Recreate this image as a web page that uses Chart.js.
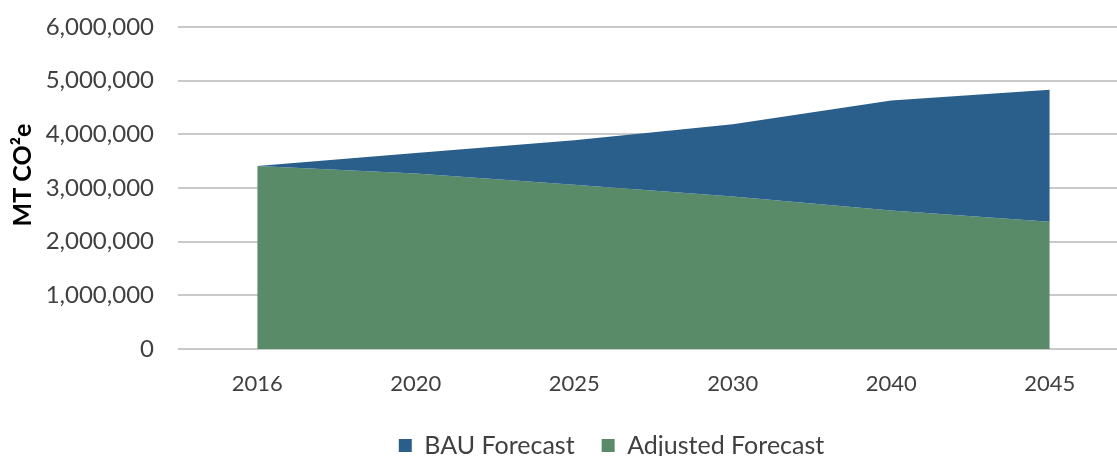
<!DOCTYPE html>
<html>
<head>
<meta charset="utf-8">
<script src="https://cdn.jsdelivr.net/npm/chart.js@4"></script>
<style>
  html, body { margin: 0; padding: 0; background: #fff; overflow: hidden; }
  #wrap { width: 1130px; height: 468px; position: relative; }
</style>
</head>
<body>
<div id="wrap"><canvas id="chart"></canvas></div>
<script>
// dados
const anos = ['2016', '2020', '2025', '2030', '2040', '2045'];
const bauForecast = [3410000, 3650000, 3890000, 4190000, 4630000, 4830000];
const adjustedForecast = [3410000, 3270000, 3060000, 2840000, 2580000, 2370000];
const yTicks = [0, 1000000, 2000000, 3000000, 4000000, 5000000, 6000000];
const tituloY = 'MT CO²e';

const corTexto = '#404040';
const fonte = 'Lato, "Open Sans", sans-serif';

function formatarNumero(v) {
  return v.toLocaleString('en-US');
}

// título do eixo Y desenhado à mão (para acertar a posição)
const tituloEixo = {
  id: 'tituloEixo',
  afterDraw(chart) {
    const c = chart.ctx;
    c.save();
    c.translate(23, 175);
    c.rotate(-Math.PI / 2);
    c.fillStyle = '#000';
    c.font = 'bold 25px ' + fonte;
    c.textAlign = 'center';
    c.textBaseline = 'middle';
    c.fillText(tituloY, 0, 0);
    c.restore();
  }
};

// desloca a legenda um pouco para a direita, como no original
const ajusteLegenda = {
  id: 'ajusteLegenda',
  afterLayout(chart) {
    chart.legend.left += 88;
  }
};

const ctx = document.getElementById('chart').getContext('2d');
new Chart(ctx, {
  type: 'line',
  data: {
    labels: anos,
    datasets: [
      {
        label: 'BAU Forecast',
        data: bauForecast,
        backgroundColor: '#2a5f8b',
        borderWidth: 0,
        pointRadius: 0,
        fill: '+1',
        tension: 0
      },
      {
        label: 'Adjusted Forecast',
        data: adjustedForecast,
        backgroundColor: '#5a8b69',
        borderWidth: 0,
        pointRadius: 0,
        fill: 'origin',
        tension: 0
      }
    ]
  },
  plugins: [tituloEixo, ajusteLegenda],
  options: {
    responsive: true,
    maintainAspectRatio: false,
    animation: false,
    layout: { padding: { top: 0, right: 1, left: 6, bottom: 0 } },
    plugins: {
      tooltip: { enabled: false },
      legend: {
        position: 'bottom',
        labels: {
          color: corTexto,
          font: { family: fonte, size: 25 },
          boxWidth: 13,
          boxHeight: 13,
          padding: 27
        }
      }
    },
    scales: {
      x: {
        offset: true,
        afterFit: function (scale) {
          scale.height = 57;
        },
        grid: { display: false, drawTicks: false },
        border: { display: false },
        ticks: {
          color: corTexto,
          font: { family: fonte, size: 22 },
          padding: 22
        }
      },
      y: {
        min: 0,
        max: 6000000,
        afterBuildTicks: function (scale) {
          scale.ticks = yTicks.map(v => ({ value: v }));
        },
        afterFit: function (scale) {
          scale.width = 172;
          scale.paddingTop = 27;
        },
        grid: { color: '#c9c9c9', lineWidth: 2, drawTicks: false },
        border: { display: false },
        ticks: {
          color: corTexto,
          font: { family: fonte, size: 24 },
          padding: 24,
          callback: function (value) { return formatarNumero(value); }
        }
      }
    }
  }
});
</script>
</body>
</html>
